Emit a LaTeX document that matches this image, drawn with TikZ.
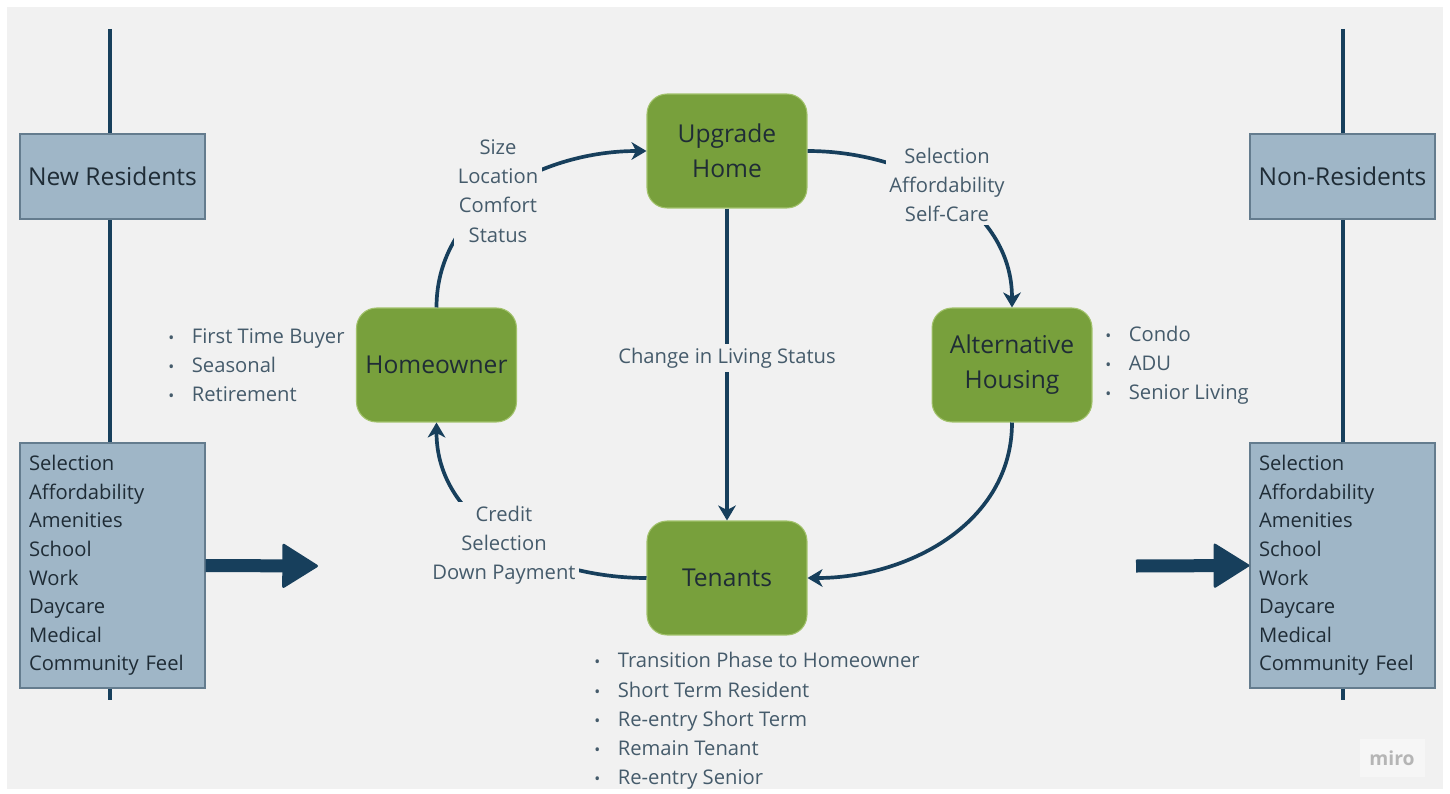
\documentclass[tikz,border=0pt]{standalone}
\usepackage{fontspec}
\setmainfont{Open Sans}
\usetikzlibrary{arrows.meta}
\definecolor{bg}{HTML}{F1F1F1}
\definecolor{navy}{HTML}{173F5C}
\definecolor{boxblue}{HTML}{9FB6C7}
\definecolor{boxedge}{HTML}{647C8E}
\definecolor{stagegreen}{HTML}{78A03C}
\definecolor{stageedge}{HTML}{A2C26C}
\definecolor{darktext}{HTML}{1F2C36}
\definecolor{labeltext}{HTML}{455B6B}
\definecolor{mirogray}{HTML}{B5B5B5}
\tikzset{
  spine/.style={navy, line width=2.2pt},
  resbox/.style={draw=boxedge, fill=boxblue, line width=0.8pt, minimum width=3.7cm,
    minimum height=1.7cm, text=darktext, font=\fontsize{14}{19.8}\selectfont},
  reslist/.style={draw=boxedge, fill=boxblue, line width=0.8pt, inner xsep=0.18cm,
    text width=3.34cm, minimum height=4.9cm, align=left, text=darktext,
    font=\fontsize{11.5}{16.3}\selectfont},
  stagebox/.style={draw=stageedge, fill=stagegreen, line width=0.6pt, rounded corners=0.4cm,
    minimum width=3.2cm, minimum height=2.28cm, align=center, text=darktext,
    font=\fontsize{14}{19.8}\selectfont},
  flow/.style={navy, line width=2.1pt, -{Stealth[length=8.5pt,width=10pt,inset=2.5pt]}},
  flowlabel/.style={fill=bg, inner sep=2pt, align=center, text=labeltext,
    font=\fontsize{11.5}{16.6}\selectfont},
  bullets/.style={anchor=west, inner sep=0pt, align=left, text=labeltext,
    font=\fontsize{11.5}{16.6}\selectfont},
  bigarrow/.style={navy, line width=7.4pt,
    -{Triangle[length=21pt,width=26pt,round,line width=1.5pt]}}
}
\newcommand{\listdot}{\makebox[0.47cm][l]{\small •}}
\begin{document}
\begin{tikzpicture}[x=0.02cm,y=-0.02cm]
\fill[white] (0,0) rectangle (1450,794);
\fill[bg] (7,7) rectangle (1443,789);

\coordinate (ltop) at (110,29);
\coordinate (lbot) at (110,700);
\coordinate (rtop) at (1343,29);
\coordinate (rbot) at (1343,700);
\draw[spine] (ltop) -- (lbot);
\draw[spine] (rtop) -- (rbot);

\node[resbox] (newres) at (112.5,176.5) {New Residents};
\node[resbox] (nonres) at (1342.5,176.5) {Non-Residents};
\node[reslist] (newlist) at (112.5,565.5) {Selection\\Affordability\\Amenities\\School\\Work\\Daycare\\Medical\\Community Feel};
\node[reslist] (nonlist) at (1342.5,565.5) {Selection\\Affordability\\Amenities\\School\\Work\\Daycare\\Medical\\Community Feel};

\coordinate (inhead) at (318,566);
\coordinate (outtail) at (1136,566);
\draw[bigarrow] (newlist.east) -- (inhead);
\draw[bigarrow] (outtail) -- (nonlist.west);

\node[stagebox] (upgrade) at (727,151) {Upgrade\\Home};
\node[stagebox] (owner) at (436.5,365) {Homeowner};
\node[stagebox] (alt) at (1012,365) {Alternative\\Housing};
\node[stagebox] (tenants) at (727,578) {Tenants};

\draw[flow] (owner.north) to[out=90,in=180] (upgrade.west);
\draw[flow] (upgrade.east) to[out=0,in=90] (alt.north);
\draw[flow] (upgrade.south) -- (tenants.north);
\draw[flow] (alt.south) to[out=-90,in=0] (tenants.east);
\draw[flow] (tenants.west) to[out=180,in=-90] (owner.south);

\node[flowlabel] (sizelbl) at (498,191) {Size\\Location\\Comfort\\Status};
\node[flowlabel] (altlbl) at (947,185) {Selection\\Affordability\\Self-Care};
\node[flowlabel] (changelbl) at (727,358) {Change in Living Status};
\node[flowlabel] (creditlbl) at (504,545) {Credit\\Selection\\Down Payment};

\node[bullets] (ownerlist) at (168,365.5) {\listdot First Time Buyer\\\listdot Seasonal\\\listdot Retirement};
\node[bullets] (altlist) at (1105,365.5) {\listdot Condo\\\listdot ADU\\\listdot Senior Living};
\node[bullets] (tenantlist) at (594,721) {\listdot Transition Phase to Homeowner\\\listdot Short Term Resident\\\listdot Re-entry Short Term\\\listdot Remain Tenant\\\listdot Re-entry Senior};

\node[fill=white!35!bg, text=mirogray, font=\bfseries\fontsize{11}{13}\selectfont,
  minimum width=1.3cm, minimum height=0.75cm] (miro) at (1392,758) {miro};
\end{tikzpicture}
\end{document}
